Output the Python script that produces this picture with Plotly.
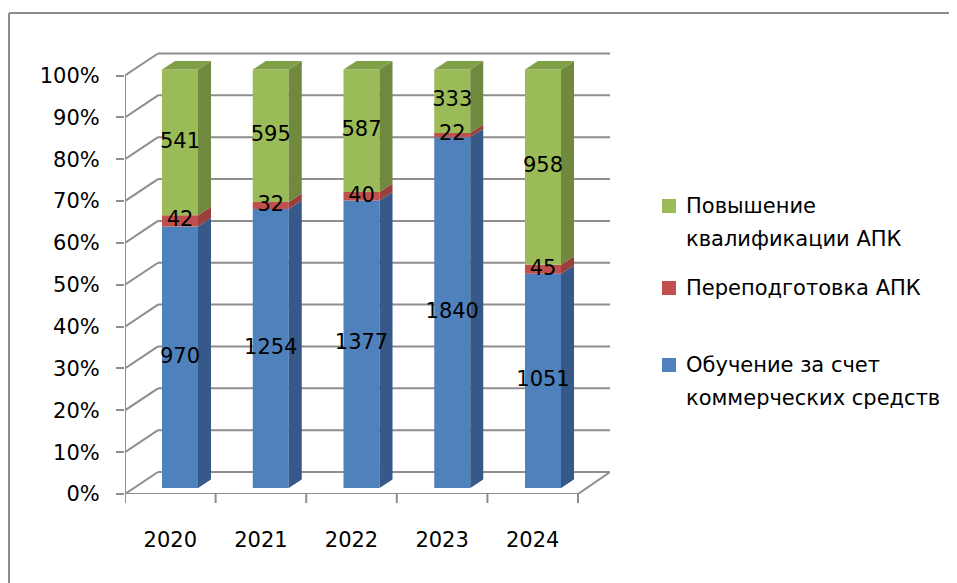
import plotly.graph_objects as go

# ---- data ----
years = ["2020", "2021", "2022", "2023", "2024"]
series_names = ["Обучение за счет коммерческих средств", "Переподготовка АПК", "Повышение квалификации АПК"]
commercial = [970, 1254, 1377, 1840, 1051]
retraining = [42, 32, 40, 22, 45]
qualification = [541, 595, 587, 333, 958]
y_ticks = [0, 10, 20, 30, 40, 50, 60, 70, 80, 90, 100]
y_tick_labels = [f"{t}%" for t in y_ticks]

front_colors = ["#4F81BD", "#C0504D", "#9BBB59"]
side_colors = ["#36598A", "#99403D", "#71893F"]
top_color = "#80A047"

FONT = "DejaVu Sans"
PAGE_W, PAGE_H = 957, 583
OFF = 8                                       # default html body margin
W, H = PAGE_W - OFF, PAGE_H - OFF
PL, PR, PT, PB = 125, 610, 50, 494            # plot area in page px
X0PX, XS = 180.0, 90.75                       # bar centre of first category, px per category
Y0PX, YS = 488.0, 4.185                       # bar baseline px, px per percent
DEPTH_DX, DEPTH_DY = 33, 22                   # wall depth in px
BAR_DX, BAR_DY = 13, 8.5                      # bar depth in px
HALF_W = 0.1985
FRONT_RIGHT_PX = 578


def dxv(px):
    return (px - X0PX) / XS


def dyv(py):
    return (Y0PX - py) / YS


def xp(px):
    return (px - PL) / (PR - PL)


def yp(py):
    return (PB - py) / (PB - PT)


series = [commercial, retraining, qualification]
totals = [sum(s[i] for s in series) for i in range(len(years))]
pct = [[s[i] / totals[i] * 100 for i in range(len(years))] for s in series]

fig = go.Figure()
xs = list(range(len(years)))
bases = [0.0] * len(years)
seg = []
for k, p in enumerate(pct):
    fig.add_trace(go.Bar(x=xs, y=p, base=list(bases), width=2 * HALF_W,
                         marker=dict(color=front_colors[k], line=dict(width=0)),
                         name=series_names[k], showlegend=False, hoverinfo="skip"))
    seg.append([(bases[i], bases[i] + p[i]) for i in range(len(years))])
    bases = [bases[i] + p[i] for i in range(len(years))]

ddx = BAR_DX / XS
ddy = BAR_DY / YS
# side faces
for k in range(len(series)):
    px_, py_ = [], []
    for i in xs:
        y0, y1 = seg[k][i]
        xr = i + HALF_W
        px_ += [xr, xr + ddx, xr + ddx, xr, xr, None]
        py_ += [y0, y0 + ddy, y1 + ddy, y1, y0, None]
    fig.add_trace(go.Scatter(x=px_, y=py_, mode="lines", fill="toself",
                             fillcolor=side_colors[k], line=dict(width=0),
                             showlegend=False, hoverinfo="skip"))
# top faces
tx, ty = [], []
for i in xs:
    top = seg[-1][i][1]
    xl, xr = i - HALF_W, i + HALF_W
    tx += [xl, xl + ddx, xr + ddx, xr, xl, None]
    ty += [top, top + ddy, top + ddy, top, top, None]
fig.add_trace(go.Scatter(x=tx, y=ty, mode="lines", fill="toself", fillcolor=top_color,
                         line=dict(width=0), showlegend=False, hoverinfo="skip"))

# value labels
lx, ly, lt = [], [], []
for k, s in enumerate(series):
    for i in xs:
        y0, y1 = seg[k][i]
        lx.append(i)
        ly.append((y0 + y1) / 2)
        lt.append(str(s[i]))
fig.add_trace(go.Scatter(x=lx, y=ly, text=lt, mode="text",
                         textfont=dict(family=FONT, size=21, color="#000"),
                         showlegend=False, hoverinfo="skip"))

# walls / gridlines
shapes = []
gc = "#8E8E8E"
x_fl = dxv(PL)
x_bl = dxv(PL + DEPTH_DX)
x_br = dxv(PR)
x_fr = dxv(FRONT_RIGHT_PX)
for t in y_ticks:
    yf = t + dyv(PB)
    yb = yf + DEPTH_DY / YS
    shapes.append(dict(type="line", xref="x", yref="y", x0=x_fl, y0=yf, x1=x_bl, y1=yb,
                       line=dict(color=gc, width=2), layer="below"))
    shapes.append(dict(type="line", xref="x", yref="y", x0=x_bl, y0=yb, x1=x_br, y1=yb,
                       line=dict(color=gc, width=2), layer="below"))
yf0 = dyv(PB)
shapes.append(dict(type="line", xref="x", yref="y", x0=x_fl, y0=yf0, x1=x_fr, y1=yf0,
                   line=dict(color=gc, width=2)))
shapes.append(dict(type="line", xref="x", yref="y", x0=x_fr, y0=yf0, x1=x_br, y1=yf0 + DEPTH_DY / YS,
                   line=dict(color=gc, width=2), layer="below"))
shapes.append(dict(type="line", xref="x", yref="y", x0=x_fl, y0=yf0, x1=x_fl, y1=100 + yf0,
                   line=dict(color=gc, width=2)))
slot = (x_fr - x_fl) / len(years)
for k in range(len(years) + 1):
    xv = x_fl + k * slot
    shapes.append(dict(type="line", xref="x", yref="paper", x0=xv, y0=0, x1=xv, y1=yp(PB + 9),
                       line=dict(color=gc, width=2)))
# outer frame
shapes.append(dict(type="line", xref="paper", yref="paper", x0=xp(9), y0=yp(13), x1=xp(PAGE_W), y1=yp(13),
                   line=dict(color="#8C8C8C", width=2)))
shapes.append(dict(type="line", xref="paper", yref="paper", x0=xp(9), y0=yp(13), x1=xp(9), y1=yp(PAGE_H),
                   line=dict(color="#8C8C8C", width=2)))

# custom legend
legend_items = [
    (2, ["Повышение", "квалификации АПК"], 206),
    (1, ["Переподготовка АПК"], 288),
    (0, ["Обучение за счет", "коммерческих средств"], 365),
]
annotations = []
for k, lines, ypx in legend_items:
    shapes.append(dict(type="rect", xref="paper", yref="paper", x0=xp(662), x1=xp(676),
                       y0=yp(ypx + 7), y1=yp(ypx - 7), fillcolor=front_colors[k], line=dict(width=0)))
    for j, line in enumerate(lines):
        annotations.append(dict(xref="paper", yref="paper", x=xp(684), y=yp(ypx + j * 33),
                                text=line, showarrow=False, xanchor="left", yanchor="middle",
                                font=dict(family=FONT, size=21, color="#000")))

fig.update_layout(
    width=W, height=H,
    margin=dict(l=PL - OFF, r=PAGE_W - PR, t=PT - OFF, b=PAGE_H - PB, pad=0),
    paper_bgcolor="white", plot_bgcolor="white",
    barmode="overlay",
    showlegend=False,
    shapes=shapes,
    annotations=annotations,
    xaxis=dict(range=[dxv(PL), dxv(PR)], showgrid=False, zeroline=False, showline=False,
               tickvals=[x_fl + (k + 0.5) * slot for k in range(len(years))], ticktext=years,
               ticks="", ticklabelstandoff=31,
               tickfont=dict(family=FONT, size=21, color="#000")),
    yaxis=dict(range=[dyv(PB), dyv(PT)], showgrid=False, zeroline=False, showline=False,
               tickvals=[t + dyv(PB) for t in y_ticks], ticktext=y_tick_labels,
               ticks="outside", ticklen=8, tickwidth=2, tickcolor=gc, ticklabelstandoff=12,
               tickfont=dict(family=FONT, size=21, color="#000")),
)

fig.write_html("out.html")
